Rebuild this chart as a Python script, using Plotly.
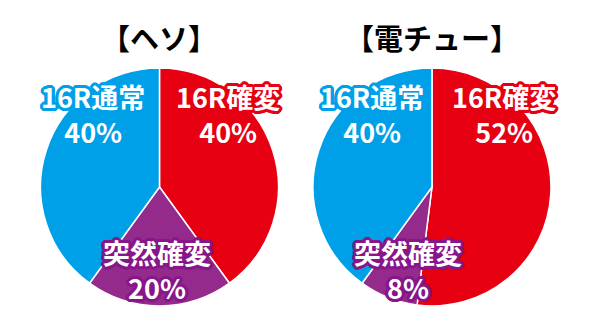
import plotly.graph_objects as go

titles = ["【ヘソ】", "【電チュー】"]
labels = ["16R確変", "突然確変", "16R通常"]
heso_values = [40, 20, 40]
denchu_values = [52, 8, 40]
colors = ["#e60012", "#932a8c", "#00a0e9"]
outline_colors = ["#e60012", "#87168a", "#00a0e9"]

domains_x = [[0.0684, 0.4704], [0.5287, 0.9307]]
domain_y = [0.067, 0.793]

fig = go.Figure()
for vals, dx in zip([heso_values, denchu_values], domains_x):
    fig.add_trace(go.Pie(
        labels=labels, values=vals, sort=False, direction="clockwise", rotation=0,
        marker=dict(colors=colors, line=dict(color="white", width=1.5)),
        textinfo="none", hoverinfo="label+percent", showlegend=False,
        domain=dict(x=dx, y=domain_y),
    ))

def shadow(c, r=3):
    pts = []
    for dx in range(-r, r + 1):
        for dy in range(-r, r + 1):
            if dx * dx + dy * dy <= r * r + 1 and (dx or dy):
                pts.append(f"{dx}px {dy}px 0 {c}")
    return ", ".join(pts)

# label block centers in pixels per pie, per slice
label_pos = [
    [(228, 114), (157, 270), (93, 114)],
    [(504, 114), (408, 270), (372, 114)],
]
W, H = 592, 328

for p, vals in enumerate([heso_values, denchu_values]):
    for i, (lab, v) in enumerate(zip(labels, vals)):
        px, py = label_pos[p][i]
        fig.add_annotation(
            x=px / W, y=1 - py / H, xref="paper", yref="paper",
            showarrow=False, xanchor="center", yanchor="middle",
            text=f"<b>{lab}</b><br><b>{v}%</b>", align="center",
            font=dict(family="Noto Sans CJK JP", size=27, color="white",
                      shadow=shadow(outline_colors[i])),
        )

for t, dx in zip(titles, domains_x):
    fig.add_annotation(
        x=(dx[0] + dx[1]) / 2, y=1 - 37 / H, xref="paper", yref="paper",
        xanchor="center", yanchor="middle",
        showarrow=False, text=f"<b>{t}</b>",
        font=dict(family="Noto Sans CJK JP", size=29, color="black"),
    )

fig.update_layout(width=W, height=H, margin=dict(l=0, r=0, t=0, b=0),
                  paper_bgcolor="white", plot_bgcolor="white")
fig.write_html("out.html")
